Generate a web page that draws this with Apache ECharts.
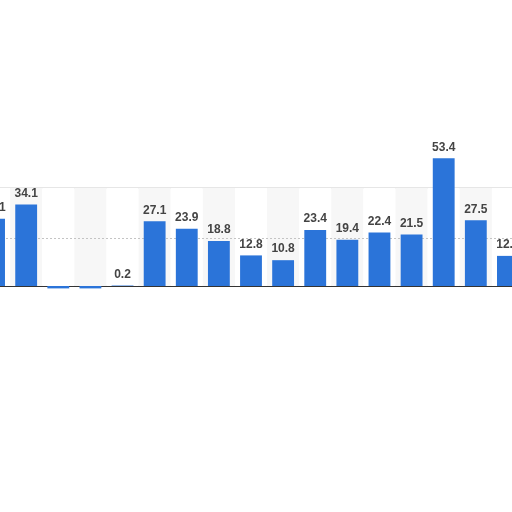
<!DOCTYPE html>
<html>
<head>
<meta charset="utf-8">
<script src="https://cdn.jsdelivr.net/npm/echarts@6/dist/echarts.min.js"></script>
<style>
  html, body { margin: 0; padding: 0; background: #fff; overflow: hidden; }
  /* the plot runs off both edges of the picture */
  #chart { width: 546px; height: 512px; margin-left: -22px; }
</style>
</head>
<body>
<div id="chart"></div>
<script>
// categories aren't labelled in the picture, so just number them
let categories = ['1','2','3','4','5','6','7','8','9','10','11','12','13','14','15','16','17'];
let values = [28.1, 34.1, -1, -1, 0.2, 27.1, 23.9, 18.8, 12.8, 10.8, 23.4, 19.4, 22.4, 21.5, 53.4, 27.5, 12.6];
let refLine = 20;

let chart = echarts.init(document.getElementById('chart'));

// negative bars have no label in the picture
let barData = values.map(v => v < 0 ? { value: v, label: { show: false } } : v);

chart.setOption({
    backgroundColor: '#fff',
    animation: false,
    grid: {
        show: true,
        left: 0,
        right: 0,
        top: 188,
        bottom: 226,
        borderColor: '#cccccc',
        borderWidth: 1,
        backgroundColor: 'transparent'
    },
    xAxis: {
        type: 'category',
        data: categories,
        axisLine: { lineStyle: { color: '#333', width: 1.2 } },
        axisTick: { show: false },
        axisLabel: { show: false },
        splitArea: {
            show: true,
            areaStyle: { color: ['#ffffff', '#f7f7f7'] }
        }
    },
    yAxis: {
        type: 'value',
        min: 0,
        max: 41,
        axisLine: { show: false },
        axisTick: { show: false },
        axisLabel: { show: false },
        splitLine: { show: false }
    },
    series: [{
        type: 'bar',
        data: barData,
        barWidth: '68%',
        clip: false,
        itemStyle: { color: '#2b74d9' },
        label: {
            show: true,
            position: 'top',
            distance: 5,
            color: '#444',
            fontFamily: 'Liberation Sans',
            fontWeight: 'bold',
            fontSize: 12
        },
        markLine: {
            silent: true,
            symbol: 'none',
            label: { show: false },
            lineStyle: { color: '#c4c4c4', type: [2, 2], width: 1 },
            data: [{ yAxis: refLine }],
            z: 1
        }
    }]
});
</script>
</body>
</html>
